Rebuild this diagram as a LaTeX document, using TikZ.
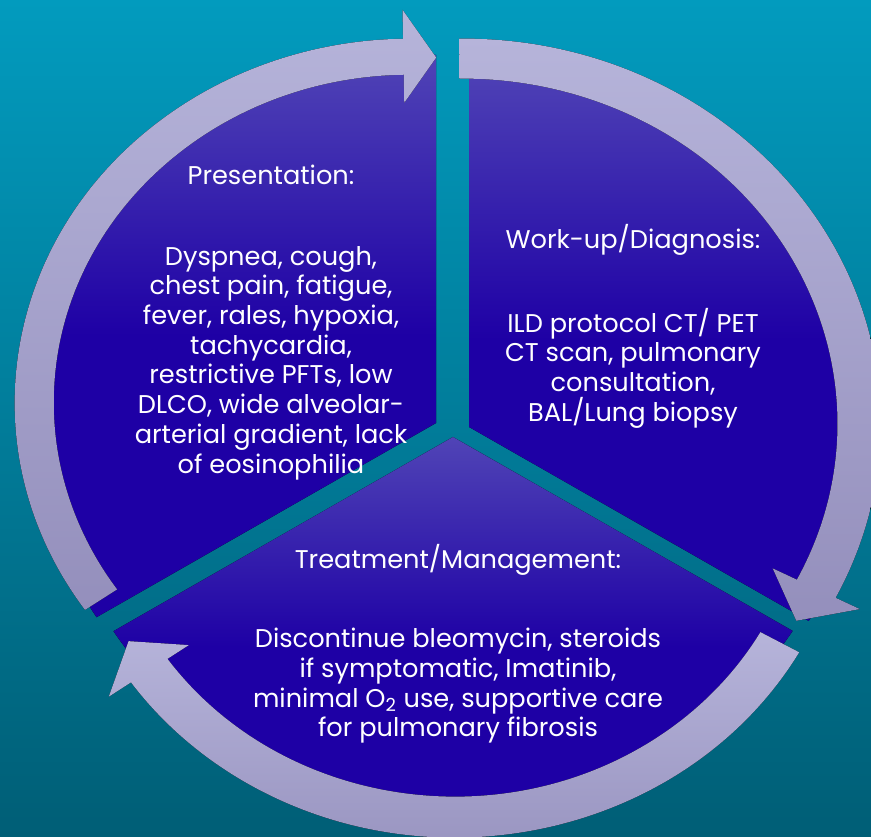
\documentclass[tikz,border=0pt]{standalone}
\usepackage{fontspec}
\setmainfont{Poppins}

\definecolor{bgtop}{RGB}{2,155,190}
\definecolor{bgbot}{RGB}{0,94,118}
\definecolor{slicetop}{RGB}{80,68,182}
\definecolor{slicebot}{RGB}{30,0,165}
\definecolor{arrowtop}{RGB}{182,180,218}
\definecolor{arrowbot}{RGB}{148,143,188}

\tikzset{
  slice/.style={top color=slicetop, bottom color=slicebot, middle color=slicebot},
  cyclearrow/.style={top color=arrowtop, bottom color=arrowbot},
  title/.style={text=white, align=center, inner sep=0pt, font=\fontsize{14.6}{16.9}\selectfont},
  body/.style={title}
}

\begin{document}
\begin{tikzpicture}[x=0.02cm, y=0.02cm]
		% Fond
		\useasboundingbox (0,0) rectangle (871,837);
		\fill[top color=bgtop, bottom color=bgbot] (0,0) rectangle (871,837);

		\begin{scope}[xscale=1.086]
				% Secteurs
				\begin{scope}[shift={(401.5,414)}]
						\fill[slice] (0,0) -- (90:368) arc[start angle=90, end angle=211.85, radius=368] -- cycle;
				\end{scope}
				\begin{scope}[shift={(431.9,410)}]
						\fill[slice] (0,0) -- (-31.8:368) arc[start angle=-31.8, end angle=90, radius=368] -- cycle;
				\end{scope}
				\begin{scope}[shift={(417.1,400)}]
						\fill[slice] (0,0) -- (211.85:368) arc[start angle=211.85, end angle=328.2, radius=368] -- cycle;
				\end{scope}

				% Flèches
				\begin{scope}[shift={(377.5,434.3)}]
						\fill[cyclearrow] (214.7:364) arc[start angle=214.7, end angle=91, radius=364]
								-- (91:393) -- (86:346) -- (91:300) -- (91:328)
								arc[start angle=91, end angle=214.7, radius=328] -- cycle;
				\end{scope}
				\begin{scope}[shift={(426.1,413.4)}]
						\fill[cyclearrow] (90.5:385) arc[start angle=90.5, end angle=-26.9, radius=385]
								-- (-26.9:410) -- (-32.7:365) -- (-26.9:320) -- (-26.9:345)
								arc[start angle=-26.9, end angle=90.5, radius=345] -- cycle;
				\end{scope}
				\begin{scope}[shift={(418.8,363.4)}]
						\fill[cyclearrow] (-29.4:364) arc[start angle=-29.4, end angle=-145, radius=364]
								-- (-145:389) -- (-150.85:344) -- (-145:299) -- (-145:323)
								arc[start angle=-145, end angle=-29.4, radius=323] -- cycle;
				\end{scope}
		\end{scope}

		% Textes
		\node[title] at (271,662) (pres) {Presentation:};
		\node[body] at (271,474) (presbody) {Dyspnea, cough,\\chest pain, fatigue,\\fever, rales, hypoxia,\\tachycardia,\\restrictive PFTs, low\\DLCO, wide alveolar-\\arterial gradient, lack\\of eosinophilia};
		\node[title] at (633,597) (work) {Work-up/Diagnosis:};
		\node[body] at (633,469) (workbody) {ILD protocol CT/ PET\\CT scan, pulmonary\\consultation,\\BAL/Lung biopsy};
		\node[title] at (458,277) (treat) {Treatment/Management:};
		\node[body] at (458,151) (treatbody) {Discontinue bleomycin, steroids\\if symptomatic, Imatinib,\\minimal O\textsubscript{2} use, supportive care\\for pulmonary fibrosis};
\end{tikzpicture}
\end{document}
